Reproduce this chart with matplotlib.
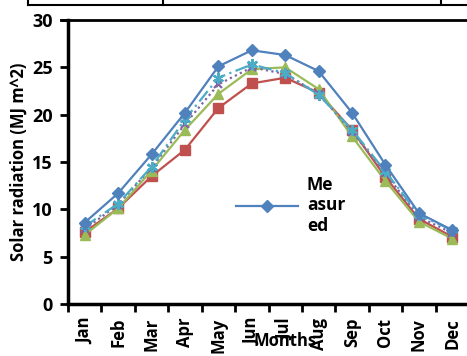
import matplotlib
matplotlib.use("Agg")
import matplotlib.pyplot as plt
from matplotlib.lines import Line2D

months = ["Jan", "Feb", "Mar", "Apr", "May", "Jun", "Jul", "Aug", "Sep", "Oct", "Nov", "Dec"]
measured = [8.6, 11.7, 15.8, 20.2, 25.1, 26.8, 26.3, 24.6, 20.2, 14.7, 9.6, 7.8]
model_red = [7.6, 10.1, 13.5, 16.3, 20.7, 23.3, 23.9, 22.3, 18.4, 13.4, 9.0, 7.1]
model_green = [7.3, 10.1, 14.1, 18.4, 22.2, 24.8, 25.0, 22.7, 17.7, 13.0, 8.7, 6.9]
model_purple = [7.9, 10.5, 14.4, 19.0, 23.2, 25.0, 24.3, 22.2, 18.2, 13.8, 9.2, 7.5]
model_cyan = [8.2, 10.6, 14.5, 19.5, 23.9, 25.3, 24.4, 22.1, 18.4, 14.0, 9.4, 7.8]
yticks = [0, 5, 10, 15, 20, 25, 30]

plt.rcParams['font.family'] = ['Open Sans', 'DejaVu Sans']
fig = plt.figure(figsize=(4.67, 3.56), dpi=100)
ax = fig.add_axes([68/467, 1-304/356, 401/467, 284/356])

x = list(range(len(months)))
ax.plot(x, model_red, color="#C0504D", lw=1.6, marker="s", ms=7, label="Model 1")
ax.plot(x, model_green, color="#9BBB59", lw=1.6, marker="^", ms=7.5, label="Model 2")
ax.plot(x, model_purple, color="#8064A2", lw=1.6, ls=(0, (1, 1.5)), marker="x", ms=6, mew=1.6, label="Model 3")
ax.plot(x, model_cyan, color="#4BACC6", lw=1.6, ls=(0, (6, 2, 1, 2)), marker=(6, 2, 0), ms=8, mew=1.6, label="Model 4")
ax.plot(x, measured, color="#4F81BD", lw=1.6, marker="D", ms=6.5, label="Measured")

ax.set_xlim(-0.5, 11.5)
ax.set_ylim(0, 30)
ax.set_yticks(yticks)
ax.set_yticklabels([str(v) for v in yticks], fontsize=13, fontweight="bold")
ax.set_xticks([i + 0.5 for i in range(-1, 12)], minor=False)
ax.set_xticklabels([])
ax.set_xticks(x, minor=True)
ax.set_xticklabels(months, minor=True, rotation=90, fontsize=12, fontweight="bold")
ax.tick_params(axis="x", which="minor", length=0, pad=10)
ax.tick_params(axis="x", which="major", length=6, width=2, direction="out")
ax.tick_params(axis="y", length=6, width=2, direction="out", pad=5)

for s in ["left", "bottom"]:
    ax.spines[s].set_linewidth(2.5)
ax.spines["top"].set_linewidth(2)
ax.spines["right"].set_visible(False)

ax.set_ylabel("Solar radiation (MJ m^2)", fontsize=12, fontweight="bold", labelpad=3)
ax.set_xlabel("Months", fontsize=12, fontweight="bold")
ax.xaxis.set_label_coords(0.541, -0.099)

# top line extending to the left like in reference
fig.add_artist(Line2D([61/467, 68/467], [1-20/356, 1-20/356], color="black", lw=2))

leg_handle = Line2D([], [], color="#4F81BD", lw=1.6, marker="D", ms=6.5)
ax.legend([leg_handle], ["Me\nasur\ned"], loc="upper left", bbox_to_anchor=(152/401, 1-140/284),
          frameon=False, handlelength=3.6, prop={"weight": "bold", "size": 12.5},
          labelspacing=0.2, handletextpad=0.5)

# table fragment at the top
fig.add_artist(Line2D([28/467, 1], [1-5/356, 1-5/356], color="black", lw=1.5))
for xv in [28, 163, 441]:
    fig.add_artist(Line2D([xv/467, xv/467], [1-5/356, 1], color="black", lw=1.5))

fig.savefig("out.png", dpi=100)
